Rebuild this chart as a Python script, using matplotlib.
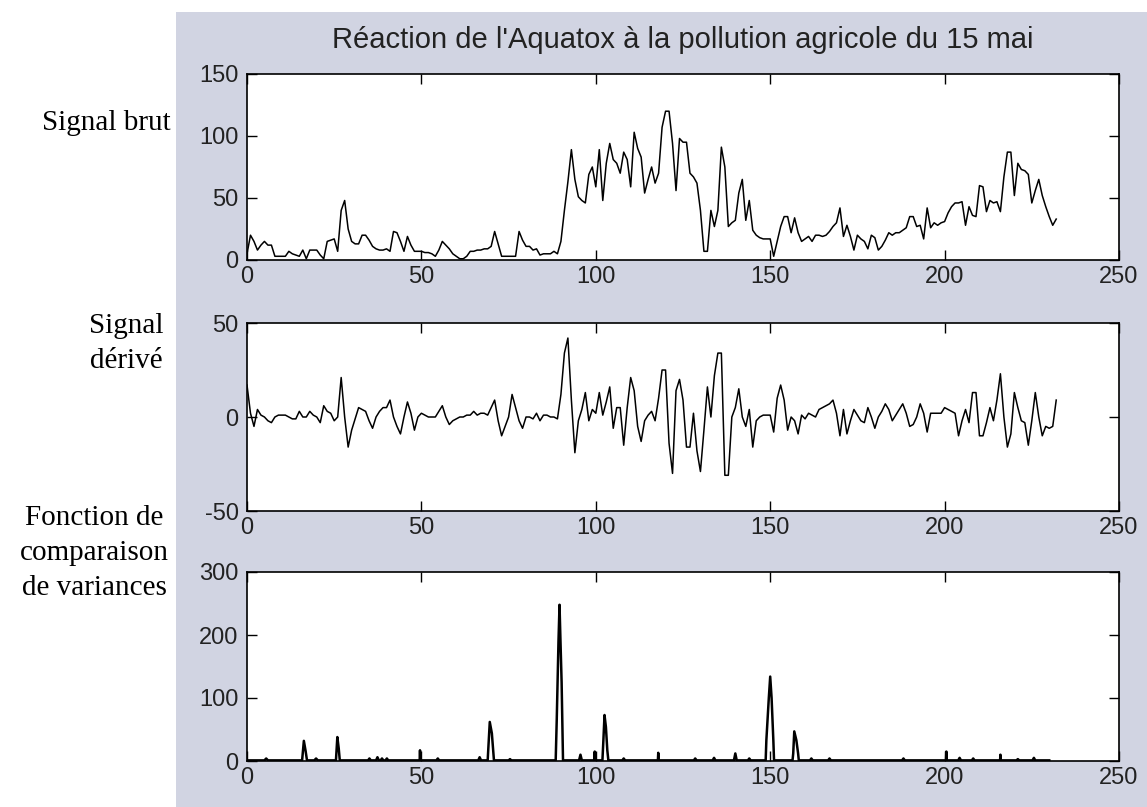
import matplotlib
matplotlib.use("Agg")
import matplotlib.pyplot as plt
from matplotlib import font_manager
from matplotlib.patches import Rectangle

plt.rcParams["axes.unicode_minus"] = False

# --- data ---
signal_brut = [
    5, 20, 15, 8, 12, 15, 12, 12, 3, 3, 3, 3, 7, 5, 4, 3, 8, 1, 8, 8,
    8, 4, 1, 15, 16, 17, 7, 40, 48, 25, 15, 13, 13, 20, 20, 16, 11, 9, 8, 8,
    9, 7, 23, 22, 15, 7, 19, 12, 7, 7, 7, 6, 6, 5, 3, 8, 15, 12, 9, 5,
    3, 1, 1, 3, 7, 7, 8, 8, 9, 9, 11, 23, 13, 3, 3, 3, 3, 3, 23, 16,
    11, 11, 8, 9, 4, 5, 5, 5, 7, 5, 15, 40, 63, 89, 65, 51, 48, 46, 69, 75,
    59, 89, 48, 78, 94, 81, 78, 70, 87, 81, 59, 103, 90, 83, 54, 65, 75, 62, 70, 107,
    120, 120, 94, 56, 98, 95, 95, 70, 67, 62, 40, 7, 7, 40, 27, 40, 91, 75, 27, 30,
    32, 54, 65, 32, 48, 24, 20, 18, 17, 17, 17, 3, 15, 27, 35, 35, 22, 34, 22, 15,
    17, 19, 15, 20, 20, 19, 20, 23, 27, 30, 42, 19, 28, 19, 8, 20, 17, 15, 9, 20,
    18, 8, 11, 16, 22, 20, 22, 22, 24, 26, 35, 35, 27, 28, 17, 42, 26, 30, 28, 30,
    31, 38, 43, 46, 46, 47, 28, 43, 36, 35, 60, 59, 39, 48, 46, 47, 39, 67, 87, 87,
    52, 78, 73, 72, 69, 46, 56, 65, 52, 43, 35, 28, 33,
]

signal_derive = [
    17, 2, -5, 4, 1, 0, -2, -3, 0, 1, 1, 1, 0, -1, -1, 3, 0, 0, 3, 1,
    0, -3, 6, 3, 2, -2, 0, 21, 0, -16, -7, -1, 5, 4, 3, -2, -6, 0, 3, 5,
    5, 9, 0, -5, -9, 0, 8, 2, -7, 0, 2, 1, 0, 0, 0, 3, 6, 0, -4, -2,
    -1, 0, 0, 1, 1, 3, 1, 2, 2, 1, 5, 9, -2, -10, -5, 0, 12, 5, -2, -6,
    0, 0, -1, 2, -2, 1, 1, 0, 0, -1, 12, 34, 42, 9, -19, -2, 4, 13, -2, 4,
    2, 13, 1, 8, 16, -6, 5, 5, -15, 5, 21, 14, -5, -13, -2, 1, 3, -2, 10, 25,
    25, -14, -30, 14, 20, 9, -16, -16, 2, -18, -29, -7, 16, 0, 22, 34, 34, -31, -31, 0,
    5, 15, 0, -5, 4, -16, -2, 0, 1, 1, 1, -8, 10, 17, 9, -7, 0, -2, -9, 1,
    -1, 2, 1, 0, 4, 5, 6, 7, 9, 2, -10, 4, -9, -2, 4, 1, -2, -3, 5, 0,
    -6, 0, 3, 7, 4, -2, 1, 4, 7, 2, -5, -4, 0, 7, 2, -8, 2, 2, 2, 2,
    5, 4, 3, 2, -10, -2, 4, -3, 13, 13, -10, -10, -3, 5, -2, 9, 23, 0, -16, -9,
    13, 5, -2, -3, -15, -2, 13, 0, -10, -5, -6, -5, 9,
]

# variance comparison function: (x, value) breakpoints, baseline in between
variance_x = [
    0, 5, 5.5, 6, 15.8, 16.3, 16.8, 17.2, 19.3, 19.8, 20.3, 25.5, 25.9, 26.3, 26.6,
    34.7, 35.1, 35.5, 37, 37.4, 37.8, 38.3, 38.7, 39.1, 39.7, 40.1, 40.5,
    49.5, 49.6, 49.7, 54.3, 54.7, 55.1, 66.3, 66.7, 67.1, 69.0, 69.6, 70.2, 70.8,
    75.0, 75.4, 75.8, 88.5, 88.8, 89.3, 89.6, 89.9, 90.2, 90.6, 95.2, 95.6, 96.0,
    99.6, 99.7, 99.8, 101.9, 102.2, 102.5, 102.9, 103.3, 103.6, 107.6, 108, 108.4,
    117.8, 117.9, 118, 128.1, 128.5, 128.9, 133.5, 133.9, 134.3, 139.6, 140, 140.4,
    143.6, 144, 144.4, 148.7, 148.9, 149.6, 150.0, 150.4, 150.9, 151.1,
    156.4, 156.6, 156.9, 157.5, 158, 158.2, 161.4, 161.8, 162.2, 166.6, 167, 167.4,
    187.8, 188.2, 188.6, 200.4, 200.5, 200.6, 203.9, 204.3, 204.7, 207.8, 208.2, 208.6,
    215.9, 216, 216.1, 220.6, 221, 221.4, 225.2, 225.6, 226, 230,
]
variance_y = [
    1, 1, 4, 1, 1, 32, 16, 1, 1, 4, 1, 1, 38, 20, 1,
    1, 4, 1, 1, 6, 1, 1, 4, 1, 1, 4, 1,
    1, 17, 1, 1, 4, 1, 1, 6, 1, 1, 62, 44, 1,
    1, 3, 1, 1, 65, 190, 248, 185, 125, 1, 1, 10, 1,
    1, 15, 1, 1, 36, 73, 54, 17, 1, 1, 4, 1,
    1, 13, 1, 1, 4, 1, 1, 5, 1, 1, 12, 1,
    1, 4, 1, 1, 33, 100, 134, 100, 33, 1,
    1, 12, 47, 33, 12, 1, 1, 4, 1, 1, 4, 1,
    1, 4, 1, 1, 15, 1, 1, 5, 1, 1, 4, 1,
    1, 10, 1, 1, 3, 1, 1, 5, 1, 1,
]

title = "Réaction de l'Aquatox à la pollution agricole du 15 mai"
row_labels = ["Signal brut", "Signal\ndérivé", "Fonction de\ncomparaison\nde variances"]
y_ticks = [[0, 50, 100, 150], [-50, 0, 50], [0, 100, 200, 300]]
x_ticks = [0, 50, 100, 150, 200, 250]

# --- fonts ---
names = set(font_manager.get_font_names())
if "Liberation Sans Narrow" in names:
    sans, tick_size, title_size = "Liberation Sans Narrow", 19, 25
else:
    sans, tick_size, title_size = "Liberation Sans", 17, 21
serif = "Liberation Serif"

fig = plt.figure(figsize=(11.47, 8.07), dpi=100)
fig.patch.set_facecolor("white")
fig.patches.append(Rectangle((176 / 1147, 0), 1 - 176 / 1147, 1 - 12 / 807,
                             transform=fig.transFigure, facecolor="#d1d4e2",
                             edgecolor="none", zorder=-10))

left, width = 247 / 1147, 872 / 1147
boxes = [(74, 260), (323, 511), (572, 761)]
series = [(range(len(signal_brut)), signal_brut, 1.1),
          (range(len(signal_derive)), signal_derive, 1.1),
          (variance_x, variance_y, 1.8)]

for k, ((top, bot), (xs, ys, lw)) in enumerate(zip(boxes, series)):
    ax = fig.add_axes([left, 1 - bot / 807, width, (bot - top) / 807])
    ax.set_zorder(1)
    ax.plot(list(xs), ys, color="black", lw=lw)
    ax.set_xlim(0, 250)
    ax.set_ylim(y_ticks[k][0], y_ticks[k][-1])
    ax.set_xticks(x_ticks)
    ax.set_yticks(y_ticks[k])
    ax.tick_params(direction="in", top=True, right=True, length=7, width=1,
                   labelsize=tick_size, colors="black")
    ax.tick_params(axis="x", pad=4)
    ax.tick_params(axis="y", pad=6)
    for lab in ax.get_xticklabels() + ax.get_yticklabels():
        lab.set_family(sans)
        lab.set_color("#222222")
    for sp in ax.spines.values():
        sp.set_linewidth(1.2)
    ax.set_facecolor("white")

fig.text(683 / 1147, 1 - 40 / 807, title, ha="center", va="center",
         fontsize=title_size, family=sans, color="#222222", zorder=2)

label_pos = [(106, 123), (126, 343), (94, 553)]
for lab, (cx, cy) in zip(row_labels, label_pos):
    fig.text(cx / 1147, 1 - cy / 807, lab, ha="center", va="center",
             fontsize=21, family=serif, linespacing=1.45, multialignment="center")

fig.savefig("out.png", dpi=100)
